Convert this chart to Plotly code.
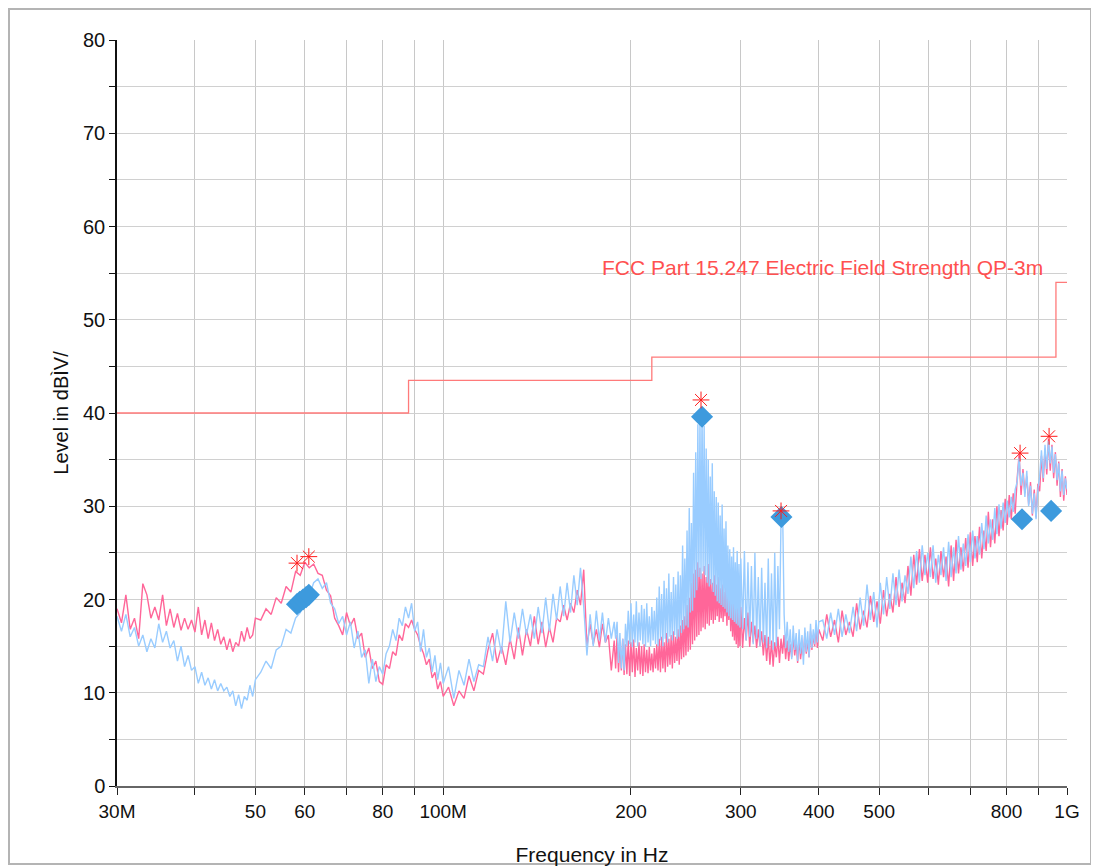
import plotly.graph_objects as go

# ---------------- data (frequencies in MHz, levels in dB) ----------------
freq_a = [30.0, 30.5, 31.0, 31.5, 32.0, 32.5, 33.0, 33.5, 34.0, 34.5, 35.0, 35.5, 36.0, 36.5,
          37.0, 37.5, 38.0, 38.5, 39.0, 39.5, 40.0, 40.5, 41.0, 41.5, 42.0, 42.5, 43.0, 43.5,
          44.0, 44.5, 45.0, 45.5, 46.0, 46.5, 47.0, 47.5, 48.0, 48.5, 49.0, 49.5, 50.0]
freq_b = [51, 52, 53, 54, 55, 56, 57, 58, 59, 60, 61, 62, 63, 64, 65, 66, 67, 68, 69, 70,
          71, 72, 73, 74, 75, 76, 77, 78, 79, 80, 81, 82, 83, 84, 85, 86, 87, 88, 89, 90,
          91, 92, 93, 94, 95, 96, 97, 98, 99]
freq_c = [100, 102, 104, 106, 108, 110, 112, 114, 116, 118, 120, 122, 124, 126, 128, 130,
          132, 134, 136, 138, 140, 142, 144, 146, 148, 150, 152, 154, 156, 158, 160, 162,
          164, 166, 168, 170, 172, 174, 176, 178, 180, 182, 184, 186, 188]
freq_m = [189, 190, 191, 192, 193, 194, 195, 196, 197, 198,
          199, 200, 201, 202, 203, 204, 205, 206, 207, 208,
          209, 210, 211, 212, 213, 214, 215, 216, 217, 218,
          219, 220, 221, 222, 223, 224, 225, 226, 227, 228,
          229, 230, 231, 232, 233, 234, 235, 236, 237, 238,
          239, 240, 241, 242, 243, 244, 245, 246, 247, 248,
          249, 250, 251, 252, 253, 254, 255, 256, 257, 258,
          259, 260, 261, 262, 263, 264, 265, 266, 267, 268,
          269, 270, 271, 272, 273, 274, 275, 276, 277, 278,
          279, 280, 281, 282, 283, 284, 285, 286, 287, 288,
          289, 290, 291, 292, 293, 294, 295, 296, 297, 298,
          299, 300]
freq_d = [302, 304, 306, 308, 310, 312, 314, 316, 318, 320, 322, 324, 326, 328, 330, 332,
          334, 336, 338, 340, 342, 344, 346, 348, 350, 352, 354, 356, 358, 360, 362, 364,
          366, 368, 370, 372, 374, 376, 378, 380, 382, 384, 386, 388, 390, 392, 394, 396,
          398, 400]
freq_e = [406, 412, 418, 424, 430, 436, 442, 448, 454, 460, 466, 472, 478, 484, 490, 496,
          502, 508, 514, 520, 526, 532, 538, 544, 550, 556, 562, 568, 574, 580, 586, 592,
          598, 604, 610, 616, 622, 628, 634, 640, 646, 652, 658, 664, 670, 676, 682, 688,
          694, 700, 706, 712, 718, 724, 730, 736, 742, 748, 754, 760, 766, 772, 778, 784,
          790, 796, 802, 808, 814, 820, 826, 832, 838, 844, 850, 856, 862, 868, 874, 880,
          886, 892, 898, 904, 910, 916, 922, 928, 934, 940, 946, 952, 958, 964, 970, 976,
          982, 988, 994, 1000]

# Horizontal polarisation (pink)
pink_a = [19.0, 17.5, 20.5, 16.8, 18.0, 15.8, 21.7, 20.5, 18.0, 19.2, 17.8, 20.5, 17.2, 19.0,
          17.0, 18.5, 16.7, 18.0, 16.8, 17.8, 16.5, 19.2, 16.2, 17.8, 15.8, 17.5, 15.6, 16.8,
          15.2, 16.0, 14.6, 15.8, 14.4, 15.4, 15.0, 16.6, 15.5, 17.0, 15.8, 16.2, 18.0]
pink_b = [17.8, 19.0, 18.4, 20.2, 19.6, 21.4, 20.8, 23.0, 22.6, 24.0, 23.4, 23.8, 22.8, 22.6,
          21.0, 20.4, 18.0, 17.2, 16.2, 18.6, 17.2, 18.0, 15.8, 16.4, 13.8, 14.8, 12.6, 13.4,
          11.2, 10.9, 13.0, 12.6, 14.4, 14.0, 16.2, 15.6, 17.4, 17.0, 17.8, 16.8, 16.2, 15.0,
          14.2, 13.0, 13.6, 11.6, 12.2, 10.4, 11.2]
pink_c = [9.6, 10.6, 8.6, 10.2, 9.4, 11.8, 10.2, 12.4, 12.0, 14.6, 16.4, 13.2, 15.0, 13.0,
          15.8, 13.6, 17.0, 14.0, 16.8, 15.0, 18.2, 15.2, 17.6, 14.9, 17.0, 15.4, 18.0, 17.6,
          19.4, 17.8, 19.6, 18.6, 21.0, 19.4, 23.2, 15.0, 17.4, 15.2, 16.8, 14.9, 17.4, 15.4,
          16.2, 12.4, 15.6]
pink_m = [12.6, 16.2, 12.2, 15.4, 12.4, 15.8, 11.9, 15.2, 12.0, 15.6,
          11.8, 15.4, 12.2, 15.7, 11.7, 14.8, 12.4, 15.4, 12.0, 15.0,
          11.8, 15.2, 12.2, 14.6, 12.1, 14.9, 12.4, 14.2, 12.2, 14.8,
          12.6, 15.2, 12.4, 15.8, 12.2, 16.0, 12.6, 15.4, 12.2, 16.4,
          12.8, 15.8, 13.0, 16.2, 12.6, 16.6, 13.2, 16.0, 13.4, 16.8,
          13.0, 17.2, 13.6, 17.8, 13.8, 18.2, 14.0, 19.4, 14.4, 20.2,
          14.6, 21.8, 15.2, 22.8, 15.6, 23.2, 16.0, 24.0, 16.2, 23.4,
          16.6, 22.8, 17.0, 23.6, 16.8, 22.4, 17.4, 23.8, 17.2, 22.2,
          17.8, 21.8, 17.4, 22.6, 17.8, 21.6, 18.2, 22.4, 17.6, 21.2,
          18.0, 21.6, 17.6, 20.8, 18.2, 21.4, 17.2, 20.6, 17.8, 21.8,
          16.6, 20.2, 16.0, 19.6, 15.6, 19.0, 15.2, 19.4, 14.8, 18.6,
          15.0, 19.2]
pink_d = [14.8, 18.0, 15.6, 18.6, 14.9, 17.6, 15.4, 17.2, 14.8, 16.8,
          15.0, 16.6, 14.0, 16.2, 13.4, 16.0, 13.0, 15.6, 12.8, 15.4,
          13.8, 16.0, 13.2, 15.8, 14.2, 16.2, 13.6, 15.6, 13.4, 15.2,
          13.8, 16.0, 14.0, 15.4, 13.2, 15.8, 13.6, 15.0, 14.0, 16.4,
          14.2, 15.6, 13.8, 16.6, 14.6, 16.2, 15.0, 17.0, 14.8, 16.8]
pink_e = [15.6, 18.4, 16.0, 17.8, 15.4, 18.8, 16.2, 17.6, 16.0, 19.6,
          16.8, 18.8, 17.0, 20.4, 17.6, 19.8, 17.4, 21.0, 18.2, 20.6,
          18.6, 22.4, 19.2, 21.8, 19.6, 23.6, 20.4, 24.8, 21.6, 25.4,
          22.0, 24.8, 21.8, 25.6, 22.2, 24.4, 21.6, 25.2, 22.4, 24.6,
          21.4, 25.8, 22.0, 26.4, 22.8, 25.6, 23.0, 26.6, 23.4, 27.2,
          23.6, 26.8, 24.0, 27.8, 24.4, 27.4, 25.2, 29.4, 25.6, 28.6,
          26.0, 30.0, 26.8, 29.6, 27.4, 30.8, 28.0, 31.2, 28.6, 31.4,
          29.2, 33.0, 35.6, 31.2, 34.0, 31.4, 33.2, 30.2, 32.6, 29.0,
          31.8, 28.8, 32.4, 31.6, 35.4, 32.6, 36.2, 33.4, 37.2, 33.8,
          36.6, 33.0, 35.8, 32.2, 34.8, 31.0, 34.0, 30.6, 33.2, 31.2]

# Vertical polarisation (light blue)
blue_a = [18.2, 16.6, 18.4, 16.0, 17.0, 15.0, 16.2, 14.4, 15.8, 14.8, 17.4, 15.4, 16.6, 14.8,
          15.6, 13.4, 15.0, 12.8, 14.0, 12.4, 12.8, 11.0, 12.2, 10.8, 11.6, 10.4, 11.4, 10.2,
          11.0, 10.2, 10.6, 9.6, 10.2, 8.6, 9.8, 8.3, 9.6, 9.2, 10.8, 9.6, 11.4]
blue_b = [12.2, 13.4, 12.6, 14.6, 15.0, 16.8, 16.4, 18.0, 18.6, 19.6, 20.4, 21.8, 22.2, 21.2,
          21.8, 19.6, 19.0, 17.4, 18.2, 16.2, 17.6, 14.8, 16.6, 13.8, 14.6, 11.0, 13.6, 11.2,
          12.8, 12.0, 14.2, 15.0, 16.8, 15.6, 18.0, 17.2, 19.2, 18.0, 19.6, 16.6, 17.6, 14.4,
          16.8, 13.8, 14.8, 12.2, 14.0, 11.4, 13.2]
blue_c = [11.0, 12.8, 9.4, 12.4, 10.8, 13.6, 11.2, 13.0, 12.8, 16.0, 13.4, 16.8, 14.2, 19.8,
          15.4, 18.6, 15.8, 19.0, 16.2, 18.4, 15.8, 19.2, 16.4, 20.2, 16.6, 20.6, 17.8, 21.4,
          18.2, 21.8, 18.6, 22.6, 19.4, 23.4, 19.2, 14.0, 18.4, 15.0, 18.8, 15.6, 18.6, 15.4,
          18.0, 15.8, 17.6]
blue_m = [15.8, 17.6, 13.2, 16.4, 12.6, 15.8, 12.4, 17.4, 15.0, 18.8,
          15.2, 19.6, 14.9, 18.4, 15.4, 19.8, 15.0, 18.6, 15.6, 19.4,
          15.2, 19.0, 14.9, 19.6, 15.4, 18.2, 15.0, 19.2, 15.6, 18.8,
          15.2, 20.2, 15.0, 21.4, 15.6, 20.6, 15.0, 22.0, 15.8, 21.2,
          15.4, 22.8, 16.0, 20.8, 15.6, 22.4, 16.2, 21.6, 15.8, 23.0,
          16.0, 22.6, 16.4, 25.8, 16.8, 24.4, 17.2, 27.4, 17.0, 29.8,
          18.6, 28.2, 18.8, 33.6, 20.2, 35.8, 21.0, 38.8, 22.4, 39.6,
          22.2, 40.4, 23.0, 38.6, 22.6, 36.2, 21.8, 35.0, 21.4, 33.2,
          21.6, 34.6, 20.8, 31.6, 20.4, 31.0, 19.8, 30.4, 19.6, 29.0,
          19.4, 30.2, 19.2, 27.6, 19.0, 28.4, 18.6, 25.8, 18.2, 25.4,
          18.0, 24.6, 17.8, 25.6, 17.6, 24.0, 17.4, 25.2, 17.2, 23.8,
          17.0, 24.4]
blue_d = [16.8, 25.2, 15.6, 24.0, 16.0, 23.6, 15.2, 25.0, 15.8, 22.4,
          15.0, 23.4, 15.4, 21.8, 14.8, 24.4, 15.2, 22.8, 14.6, 25.0,
          15.0, 23.6, 16.8, 28.6, 29.8, 18.4, 14.8, 17.6, 14.4, 16.8,
          13.6, 17.2, 14.6, 16.4, 13.4, 16.8, 14.2, 16.2, 13.0, 17.0,
          14.4, 16.6, 13.8, 17.4, 14.8, 16.8, 15.2, 17.8, 15.4, 17.6]
blue_e = [17.8, 15.8, 18.6, 16.2, 19.0, 16.0, 18.4, 16.4, 19.2, 16.6,
          20.2, 17.2, 21.6, 17.8, 20.8, 17.0, 21.8, 18.4, 22.4, 19.0,
          22.8, 19.4, 23.2, 19.8, 22.6, 20.6, 24.6, 21.2, 25.2, 21.8,
          25.8, 22.6, 25.0, 22.4, 25.8, 21.8, 24.8, 22.6, 25.6, 22.0,
          26.2, 22.4, 25.6, 22.8, 26.8, 23.2, 26.0, 23.6, 27.0, 24.0,
          27.4, 24.4, 26.8, 24.8, 28.2, 25.4, 29.0, 26.0, 28.6, 26.4,
          29.8, 27.0, 30.2, 27.6, 30.4, 28.2, 30.6, 28.8, 31.0, 29.4,
          31.8, 32.6, 35.2, 32.2, 33.6, 31.0, 33.8, 30.0, 32.2, 29.2,
          31.4, 28.6, 31.8, 33.2, 36.0, 33.0, 36.6, 34.0, 37.0, 34.6,
          36.4, 33.6, 35.6, 32.8, 34.6, 31.6, 33.8, 31.2, 33.0, 31.8]

# Limit line (FCC Part 15.247, QP, 3 m)
limit_freq = [30, 88, 216, 960, 1000]
limit_level = [40.0, 43.5, 46.0, 54.0, 54.0]

# Peak markers (red asterisks) and quasi-peak results (blue diamonds)
peak_freq = [58.3, 60.9, 259.0, 348.0, 841.0, 936.0]
peak_level = [23.9, 24.6, 41.4, 29.5, 35.7, 37.5]
qp_freq = [58.3, 58.9, 59.6, 60.3, 60.9, 260.0, 348.5, 847.0, 943.0]
qp_level = [19.5, 19.75, 20.0, 20.25, 20.5, 39.6, 28.85, 28.6, 29.5]

# Axis ticks
x_tickvals = [30, 40, 50, 60, 70, 80, 90, 100, 200, 300, 400, 500, 600, 700, 800, 900, 1000]
x_ticktext = ["30M", "", "50", "60", "", "80", "", "100M", "200", "300", "400", "500",
              "", "", "800", "", "1G"]
y_tickvals = [0, 5, 10, 15, 20, 25, 30, 35, 40, 45, 50, 55, 60, 65, 70, 75, 80]
y_ticktext = ["0", "", "10", "", "20", "", "30", "", "40", "", "50", "", "60", "", "70", "", "80"]

freq = freq_a + freq_b + freq_c + freq_m + freq_d + freq_e
pink = pink_a + pink_b + pink_c + pink_m + pink_d + pink_e
blue = blue_a + blue_b + blue_c + blue_m + blue_d + blue_e

FONT = "Liberation Sans, Arial, sans-serif"

fig = go.Figure()
fig.add_trace(go.Scatter(x=freq, y=pink, mode="lines", line=dict(color="#FF6699", width=1.4),
                         showlegend=False, hoverinfo="skip"))
fig.add_trace(go.Scatter(x=freq, y=blue, mode="lines", line=dict(color="#99CCFF", width=1.4),
                         showlegend=False, hoverinfo="skip"))
fig.add_trace(go.Scatter(x=limit_freq, y=limit_level, mode="lines", line_shape="hv",
                         line=dict(color="#FF7A7A", width=1.3), showlegend=False,
                         hoverinfo="skip"))
fig.add_trace(go.Scatter(x=qp_freq, y=qp_level, mode="markers",
                         marker=dict(symbol="diamond", size=17, color="#3D9ADD",
                                     line=dict(width=0)),
                         showlegend=False, hoverinfo="skip"))
fig.add_trace(go.Scatter(x=peak_freq, y=peak_level, mode="markers",
                         marker=dict(symbol="asterisk-open", size=14, color="#FF1A1A",
                                     line=dict(color="#FF1A1A", width=1)),
                         showlegend=False, hoverinfo="skip"))

fig.add_annotation(x=3.0, y=54, xref="x", yref="y", text="FCC Part 15.247 Electric Field Strength QP-3m",
                   showarrow=False, xanchor="right", yanchor="bottom", xshift=-22, yshift=1,
                   font=dict(family=FONT, size=21, color="#FF5050"))

# outer image border
fig.add_shape(type="rect", xref="paper", yref="paper", x0=-0.1137, x1=1.0253, y0=-0.1046, y1=1.0416,
              line=dict(color="#B4B4B4", width=2), layer="above")

fig.update_layout(
    width=1099, height=867,
    margin=dict(l=109, r=40, t=32, b=89),
    paper_bgcolor="white", plot_bgcolor="white",
    font=dict(family=FONT, color="#111111"),
    xaxis=dict(type="log", range=[1.4771213, 3.0], tickvals=x_tickvals, ticktext=x_ticktext,
               ticks="outside", ticklen=7, tickcolor="#222222", tickwidth=1,
               showgrid=True, gridcolor="#C8C8C8", gridwidth=1,
               showline=True, linecolor="#666666", linewidth=2,
               tickfont=dict(family=FONT, size=19, color="#111111"),
               title=dict(text="Frequency in Hz", font=dict(family=FONT, size=21, color="#111111"),
                          standoff=27),
               zeroline=False, automargin=False),
    yaxis=dict(range=[0, 80], tickvals=y_tickvals, ticktext=y_ticktext,
               ticks="outside", ticklen=6, tickcolor="#111111", tickwidth=1,
               showgrid=True, gridcolor="#D0D0D0", gridwidth=1,
               showline=True, linecolor="#111111", linewidth=1.5,
               tickfont=dict(family=FONT, size=20, color="#111111"),
               title=dict(text="Level in dBÌV/", font=dict(family=FONT, size=20, color="#111111"),
                          standoff=9),
               zeroline=False, automargin=False),
    xaxis2=dict(type="log", range=[1.4771213, 3.0], overlaying="x", anchor="y", side="bottom",
                tickvals=x_tickvals, ticks="inside", ticklen=7, tickcolor="#222222",
                showticklabels=False, showgrid=False, showline=False, zeroline=False),
    yaxis2=dict(range=[0, 80], overlaying="y", anchor="x", side="left",
                tickvals=y_tickvals, ticks="inside", ticklen=7, tickcolor="#111111",
                showticklabels=False, showgrid=False, showline=False, zeroline=False),
)

fig.write_html("out.html")
